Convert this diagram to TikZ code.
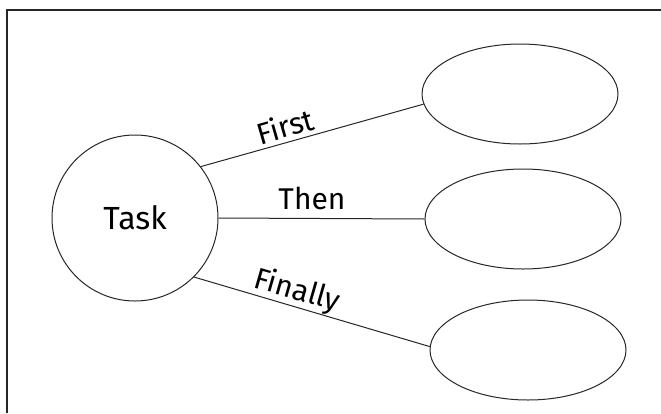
\documentclass[tikz,border=0pt]{standalone}
\usepackage{fontspec}
\setmainfont{Fira Sans}
\usetikzlibrary{shapes.geometric}
\begin{document}
\begin{tikzpicture}[x=1pt,y=-1pt,
  frame/.style={line width=1.4pt,draw=black!85},
  bubble/.style={ellipse,draw=black!85,line width=1pt,minimum width=196pt,minimum height=100pt,inner sep=0pt},
  taskc/.style={circle,draw=black!85,line width=1pt,minimum size=166pt,inner sep=0pt,font=\fontsize{32}{34}\selectfont},
  link/.style={draw=black!85,line width=1pt},
  lbl/.style={font=\fontsize{30}{32}\selectfont,inner sep=0pt}]
\useasboundingbox (0,0) rectangle (661,413);
\coordinate (fb) at (7,413);
\coordinate (fc) at (7,10);
\coordinate (fr) at (661,10);
\draw[frame] (fb) -- (fc) -- (fr);
\node[taskc] (task) at (135,218) {Task};
\node[bubble] (e1) at (520,94) {};
\node[bubble] (e2) at (523,219) {};
\node[bubble] (e3) at (528,350) {};
\draw[link] (task.38) -- (e1.186);
\draw[link] (task.east) -- (e2.west);
\draw[link] (task.-45) -- (e3.178);
\node[lbl,rotate=16] (l1) at (285,126) {First};
\node[lbl] (l2) at (312,198) {Then};
\node[lbl,rotate=-16] (l3) at (297,291) {Finally};
\end{tikzpicture}
\end{document}
